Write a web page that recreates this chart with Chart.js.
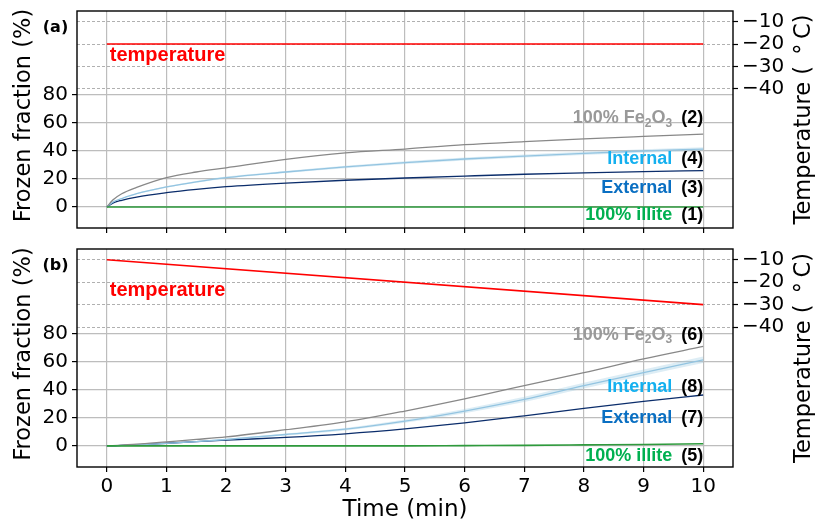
<!DOCTYPE html>
<html><head><meta charset="utf-8">
<script src="https://cdn.jsdelivr.net/npm/chart.js@4/dist/chart.umd.min.js"></script>
<style>
html,body{margin:0;padding:0;background:#fff;}
#wrap{position:relative;width:816px;height:525px;overflow:hidden;}
#c1{position:absolute;left:0;top:0;}
#c2{position:absolute;left:0;top:240px;}
</style></head><body>
<div id="wrap"><canvas id="c1" width="816" height="240"></canvas><canvas id="c2" width="816" height="285"></canvas></div>
<script>
// ---------------- data ----------------
const times = [0, 0.1, 0.25, 0.5, 1, 1.5, 2, 3, 4, 5, 6, 7, 8, 9, 10];
const xTicks = [0, 1, 2, 3, 4, 5, 6, 7, 8, 9, 10];
const leftTicks = [0, 20, 40, 60, 80];
const rightTicks = [-10, -20, -30, -40];
const tempTimes = [0, 10];

// panel (a): constant temperature
const tempA = [-20, -20];
const fe2o3A = [0, 5, 9.5, 14, 21, 25, 28, 34, 38.6, 41.4, 44.5, 46.7, 48.7, 50.4, 52];
const internalA = [0, 3.5, 6, 9.5, 14.3, 18, 21, 25, 28.6, 31.7, 34.3, 36.4, 38.3, 40, 41.4];
const internalLowA = [0, 3.3, 5.7, 9.1, 13.8, 17.4, 20.3, 24.2, 27.7, 30.7, 33.2, 35.3, 37.1, 38.7, 40.1];
const internalHighA = [0, 3.7, 6.3, 9.9, 14.8, 18.6, 21.7, 25.8, 29.5, 32.7, 35.4, 37.5, 39.5, 41.3, 42.7];
const externalA = [0, 2.8, 4.8, 7.1, 10.2, 12.6, 14.5, 17.1, 19.1, 20.7, 22.1, 23.4, 24.4, 25.3, 26];
const illiteA = [0, 0, 0, 0, 0, 0, 0, 0, 0, 0, 0, 0, 0, 0, 0];

// panel (b): cooling ramp
const tempB = [-10, -30];
const fe2o3B = [0, 0.2, 0.6, 1.2, 2.9, 4.6, 6.4, 11.5, 17.1, 24.8, 33.4, 42.9, 52.1, 61.9, 70.7];
const internalB = [0, 0.1, 0.4, 0.8, 1.8, 3.0, 4.6, 8.1, 11.9, 17.6, 24.8, 33.1, 42.9, 52.1, 61.2];
const internalLowB = [0, 0.1, 0.3, 0.7, 1.6, 2.7, 4.2, 7.4, 11.0, 16.4, 23.3, 31.3, 40.9, 49.9, 58.9];
const internalHighB = [0, 0.1, 0.5, 0.9, 2.0, 3.3, 5.0, 8.8, 12.8, 18.8, 26.3, 34.9, 44.9, 54.3, 63.5];
const externalB = [0, 0.1, 0.4, 0.8, 1.9, 3.0, 4.1, 6.0, 8.6, 12.1, 16.4, 21.4, 26.7, 31.7, 36.2];
const illiteB = [0, 0, 0, 0, 0, 0, 0, 0, 0, 0, 0.2, 0.4, 0.7, 1.0, 1.5];

// ---------------- helpers ----------------
const pts = (xs, ys) => xs.map((x, i) => ({x: x, y: ys[i]}));
const TICK_FONT = {family: 'DejaVu Sans', size: 20};
const TITLE_FONT = '22.5px "DejaVu Sans"';
const LBL_FONT = 'bold 18px "Liberation Sans"';
const SUB_FONT = 'bold 12px "Liberation Sans"';

function rotText(ctx, text, x, y) {
  ctx.save(); ctx.translate(x, y); ctx.rotate(-Math.PI / 2);
  ctx.font = TITLE_FONT; ctx.fillStyle = '#000';
  ctx.textAlign = 'center'; ctx.textBaseline = 'middle';
  ctx.fillText(text, 0, 0); ctx.restore();
}

const overlay = {
  id: 'overlay',
  afterDraw(chart, args, o) {
    const {ctx, chartArea: a, scales} = chart;
    const sx = scales.x, sy = scales.y;
    ctx.save();
    // frame
    ctx.strokeStyle = '#000'; ctx.lineWidth = 1.4;
    ctx.strokeRect(a.left, a.top, a.right - a.left, a.bottom - a.top);
    // axis titles
    rotText(ctx, 'Frozen fraction (%)', 24, (a.top + a.bottom) / 2 - 4);
    rotText(ctx, 'Temperature (\u2002\u00B0\u2009C)', 804, (a.top + a.bottom) / 2);
    // panel tag
    ctx.font = 'bold 16px "DejaVu Sans"'; ctx.fillStyle = '#000';
    ctx.textAlign = 'center'; ctx.textBaseline = 'middle';
    ctx.fillText(o.tag, a.left - 21.5, sy.getPixelForValue(128));
    // temperature label
    ctx.font = 'bold 20px "Liberation Sans"'; ctx.fillStyle = '#ff0000';
    ctx.textAlign = 'left';
    ctx.fillText('temperature', sx.getPixelForValue(0.05), sy.getPixelForValue(o.tempLabelY));
    // series labels
    const R = sx.getPixelForValue(10);
    o.labels.forEach(l => {
      const y = sy.getPixelForValue(l.y);
      ctx.font = LBL_FONT; ctx.fillStyle = '#000'; ctx.textAlign = 'right';
      ctx.fillText(l.num, R, y);
      const numW = ctx.measureText(l.num).width;
      const right = R - numW - 9;
      let total = 0;
      l.parts.forEach(p => { ctx.font = p[1] ? SUB_FONT : LBL_FONT; total += ctx.measureText(p[0]).width; });
      let x = right - total;
      ctx.textAlign = 'left'; ctx.fillStyle = l.color;
      l.parts.forEach(p => {
        ctx.font = p[1] ? SUB_FONT : LBL_FONT;
        ctx.fillText(p[0], x, p[1] ? y + 5 : y);
        x += ctx.measureText(p[0]).width;
      });
    });
    ctx.restore();
  }
};

function noPad(s) { s.paddingTop = 0; s.paddingBottom = 0; s.paddingLeft = 0; s.paddingRight = 0; }

function makePanel(canvasId, d, isBottom) {
  const cfg = {
    type: 'line',
    data: {datasets: [
      {data: pts(times, d.low), borderWidth: 0, pointRadius: 0, yAxisID: 'y', fill: false, borderColor: 'rgba(0,0,0,0)', cubicInterpolationMode: 'monotone'},
      {data: pts(times, d.high), borderWidth: 0, pointRadius: 0, yAxisID: 'y', fill: '-1', backgroundColor: 'rgba(158,202,225,0.35)', borderColor: 'rgba(0,0,0,0)', cubicInterpolationMode: 'monotone'},
      {data: pts(times, d.illite), borderColor: '#2e9a3c', borderWidth: 1.6, pointRadius: 0, yAxisID: 'y', cubicInterpolationMode: 'monotone'},
      {data: pts(times, d.fe), borderColor: '#888888', borderWidth: 1.3, pointRadius: 0, yAxisID: 'y', cubicInterpolationMode: 'monotone'},
      {data: pts(times, d.internal), borderColor: '#8ec1e0', borderWidth: 1.3, pointRadius: 0, yAxisID: 'y', cubicInterpolationMode: 'monotone'},
      {data: pts(times, d.external), borderColor: '#0b2d6b', borderWidth: 1.3, pointRadius: 0, yAxisID: 'y', cubicInterpolationMode: 'monotone'},
      {data: pts(tempTimes, d.temp), borderColor: '#ff0000', borderWidth: 1.6, pointRadius: 0, yAxisID: 'y1'}
    ]},
    options: {
      responsive: false, animation: false, devicePixelRatio: 1,
      layout: {padding: {top: d.padTop, left: 0, right: 0, bottom: 0}},
      plugins: {legend: {display: false}, tooltip: {enabled: false}, overlay: d.overlay},
      scales: {
        x: {
          type: 'linear', min: -0.5, max: 10.5,
          afterBuildTicks: s => { s.ticks = xTicks.map(v => ({value: v})); },
          afterFit: s => { s.height = d.xHeight; noPad(s); },
          grid: {color: '#bdbdbd', lineWidth: 1.2, tickColor: '#000', tickLength: 5, tickWidth: 1.2},
          border: {display: false},
          ticks: {display: isBottom, font: TICK_FONT, color: '#000', padding: 3, maxRotation: 0},
          title: {display: isBottom, text: 'Time (min)', font: {family: 'DejaVu Sans', size: 23}, color: '#000', padding: {top: 0, bottom: 1}}
        },
        y: {
          type: 'linear', position: 'left', min: -15, max: 140,
          afterBuildTicks: s => { s.ticks = leftTicks.map(v => ({value: v})); },
          afterFit: s => { s.width = 77; noPad(s); },
          grid: {color: '#bdbdbd', lineWidth: 1.2, tickColor: '#000', tickLength: 5, tickWidth: 1.2},
          border: {display: false},
          ticks: {font: TICK_FONT, color: '#000', padding: 4}
        },
        y1: {
          type: 'linear', position: 'right', min: -102.4, max: -5.2,
          afterBuildTicks: s => { s.ticks = rightTicks.map(v => ({value: v})); },
          afterFit: s => { s.width = 83; noPad(s); },
          grid: {color: '#b0b0b0', lineWidth: 1, tickColor: '#000', tickLength: 5, tickWidth: 1.2, tickBorderDash: []},
          border: {display: false, dash: [3, 2]},
          ticks: {font: TICK_FONT, color: '#000', padding: 4, callback: v => '\u2212' + Math.abs(v)}
        }
      }
    },
    plugins: [overlay]
  };
  return new Chart(document.getElementById(canvasId), cfg);
}

makePanel('c1', {
  low: internalLowA, high: internalHighA, illite: illiteA, fe: fe2o3A, internal: internalA, external: externalA, temp: tempA,
  padTop: 11, xHeight: 12,
  overlay: {tag: '(a)', tempLabelY: 108, labels: [
    {parts: [['100% Fe', 0], ['2', 1], ['O', 0], ['3', 1]], num: '(2)', color: '#999999', y: 63.3},
    {parts: [['Internal', 0]], num: '(4)', color: '#14b0ef', y: 34},
    {parts: [['External', 0]], num: '(3)', color: '#0a6fc2', y: 13.9},
    {parts: [['100% illite', 0]], num: '(1)', color: '#00b050', y: -6}
  ]}
}, false);

makePanel('c2', {
  low: internalLowB, high: internalHighB, illite: illiteB, fe: fe2o3B, internal: internalB, external: externalB, temp: tempB,
  padTop: 9, xHeight: 58,
  overlay: {tag: '(b)', tempLabelY: 110.5, labels: [
    {parts: [['100% Fe', 0], ['2', 1], ['O', 0], ['3', 1]], num: '(6)', color: '#999999', y: 79},
    {parts: [['Internal', 0]], num: '(8)', color: '#14b0ef', y: 42.1},
    {parts: [['External', 0]], num: '(7)', color: '#0a6fc2', y: 19.6},
    {parts: [['100% illite', 0]], num: '(5)', color: '#00b050', y: -7.4}
  ]}
}, true);
</script>
</body></html>
